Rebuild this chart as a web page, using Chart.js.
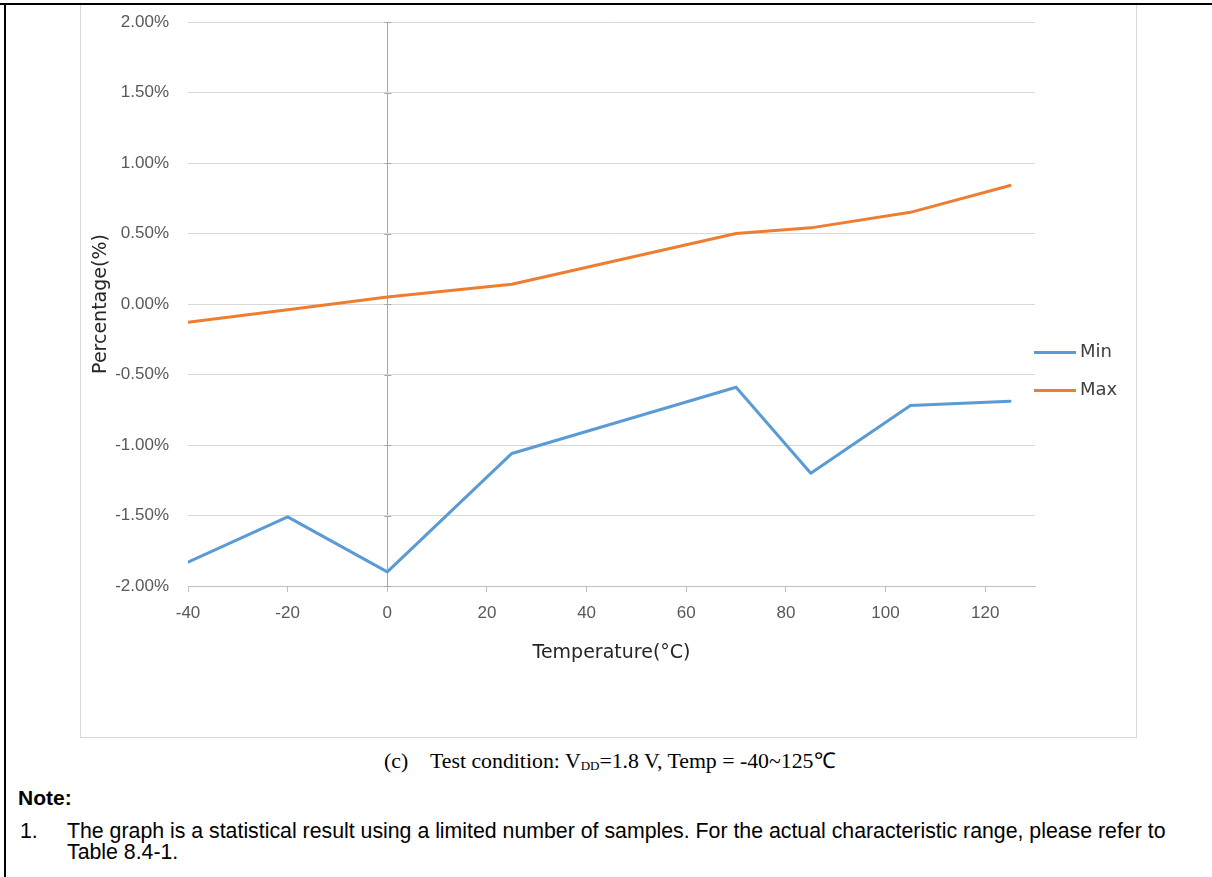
<!DOCTYPE html>
<html>
<head>
<meta charset="utf-8">
<script src="https://cdn.jsdelivr.net/npm/chart.js@4/dist/chart.umd.min.js"></script>
<style>
  html, body { margin: 0; padding: 0; background: #fff; }
  body { width: 1212px; height: 877px; position: relative; overflow: hidden; }
  .topline { position: absolute; left: 0; top: 3px; width: 1212px; height: 2px; background: #000; }
  .leftline { position: absolute; left: 4px; top: 3px; width: 2px; height: 874px; background: #000; }
  .box { position: absolute; left: 80px; top: 5px; width: 1057px; height: 733px; box-sizing: border-box; border: 1px solid #d9d9d9; border-top: none; }
  #wrap { position: absolute; left: 80px; top: 5px; width: 1057px; height: 733px; }
  .caption { position: absolute; top: 749px; left: 384px; font-family: "Liberation Serif", "Times New Roman", serif; font-size: 21.8px; line-height: 24px; color: #000; white-space: nowrap; }
  .caption sub { font-size: 13px; vertical-align: -2px; }
  .note { position: absolute; left: 18px; top: 786px; font-family: "Liberation Sans", Arial, sans-serif; font-weight: bold; font-size: 21px; line-height: 24px; color: #000; }
  .num { position: absolute; left: 20px; top: 821px; font-family: "Liberation Sans", Arial, sans-serif; font-size: 21.3px; line-height: 21px; color: #000; }
  .ntext { position: absolute; left: 67px; top: 821px; width: 1115px; font-family: "Liberation Sans", Arial, sans-serif; font-size: 21.3px; line-height: 21px; color: #000; }
</style>
</head>
<body>
<div class="topline"></div>
<div class="leftline"></div>
<div class="box"></div>
<div id="wrap"><canvas id="c"></canvas></div>
<div class="caption">(c)&nbsp;&nbsp;&nbsp;&nbsp;Test condition: V<sub>DD</sub>=1.8 V, Temp = -40~125℃</div>
<div class="note">Note:</div>
<div class="num">1.</div>
<div class="ntext">The graph is a statistical result using a limited number of samples. For the actual characteristic range, please refer to Table 8.4-1.</div>
<script>
const temperatures = [-40, -20, 0, 25, 70, 85, 105, 125];
const minValues = [-1.83, -1.51, -1.90, -1.06, -0.59, -1.20, -0.72, -0.69];
const maxValues = [-0.13, -0.04, 0.05, 0.14, 0.50, 0.54, 0.65, 0.84];
const seriesNames = ['Min', 'Max'];
const xTickValues = [-40, -20, 0, 20, 40, 60, 80, 100, 120];
const yTickValues = [-2, -1.5, -1, -0.5, 0, 0.5, 1, 1.5, 2];

const toPoints = (vals) => temperatures.map((t, i) => ({ x: t, y: vals[i] }));

const legendPlugin = {
  id: 'sideLegend',
  afterDraw(chart) {
    const ctx = chart.ctx;
    const area = chart.chartArea;
    const n = chart.data.datasets.length;
    const cy = chart.height / 2;
    ctx.save();
    ctx.font = '18px "DejaVu Sans", sans-serif';
    ctx.textBaseline = 'middle';
    ctx.textAlign = 'left';
    chart.data.datasets.forEach((ds, i) => {
      const y = cy + (i - (n - 1) / 2) * 38;
      const x0 = area.right - 1;
      ctx.strokeStyle = ds.borderColor;
      ctx.lineWidth = 3;
      ctx.beginPath();
      ctx.moveTo(x0, y);
      ctx.lineTo(x0 + 42, y);
      ctx.stroke();
      ctx.fillStyle = '#404040';
      ctx.fillText(ds.label, x0 + 46, y);
    });
    ctx.restore();
  }
};

const axisTickPlugin = {
  id: 'zeroAxisTicks',
  beforeDatasetsDraw(chart) {
    const ctx = chart.ctx;
    const xs = chart.scales.x, ys = chart.scales.y;
    const px = xs.getPixelForValue(0);
    ctx.save();
    ctx.strokeStyle = '#a6a6a6';
    ctx.lineWidth = 1;
    ys.ticks.forEach(t => {
      const py = Math.round(ys.getPixelForValue(t.value)) + 0.5;
      ctx.beginPath();
      ctx.moveTo(px - 3, py);
      ctx.lineTo(px + 4, py);
      ctx.stroke();
    });
    ctx.restore();
  }
};

new Chart(document.getElementById('c'), {
  type: 'line',
  data: {
    datasets: [
      { label: seriesNames[0], data: toPoints(minValues), borderColor: '#5b9bd5', backgroundColor: '#5b9bd5', borderWidth: 3, pointRadius: 0, tension: 0, borderCapStyle: 'round', borderJoinStyle: 'round' },
      { label: seriesNames[1], data: toPoints(maxValues), borderColor: '#ed7d31', backgroundColor: '#ed7d31', borderWidth: 3, pointRadius: 0, tension: 0, borderCapStyle: 'round', borderJoinStyle: 'round' }
    ]
  },
  options: {
    responsive: true,
    maintainAspectRatio: false,
    animation: false,
    layout: { padding: { left: 0, top: 17, right: 102, bottom: 52 } },
    plugins: { legend: { display: false }, tooltip: { enabled: false } },
    scales: {
      x: {
        type: 'linear',
        min: -40,
        max: 130,
        afterBuildTicks(scale) { scale.ticks = xTickValues.map(v => ({ value: v })); },
        afterFit(scale) { scale.height = 100; },
        ticks: { padding: 11, color: '#595959', font: { family: '"Liberation Sans", Arial, sans-serif', size: 17 }, maxRotation: 0 },
        grid: {
          drawOnChartArea: true,
          color: (c) => (c.tick && c.tick.value === 0) ? '#a6a6a6' : 'rgba(0,0,0,0)',
          tickColor: '#bfbfbf',
          tickLength: 6
        },
        border: { display: true, color: '#bfbfbf', width: 1 },
        title: { display: true, text: 'Temperature(°C)', color: '#262626', font: { family: '"DejaVu Sans", sans-serif', size: 19 }, padding: { top: 0, bottom: 22 } }
      },
      y: {
        type: 'linear',
        min: -2,
        max: 2,
        afterBuildTicks(scale) { scale.ticks = yTickValues.map(v => ({ value: v })); },
        afterFit(scale) { scale.width = 108; },
        ticks: { padding: 6, color: '#595959', font: { family: '"Liberation Sans", Arial, sans-serif', size: 17 }, callback: (v) => Number(v).toFixed(2) + '%' },
        grid: { color: '#d9d9d9', drawTicks: true, tickLength: 13, tickColor: 'rgba(0,0,0,0)' },
        border: { display: false },
        title: { display: true, text: 'Percentage(%)', color: '#262626', font: { family: '"DejaVu Sans", sans-serif', size: 19 }, padding: { top: 10, bottom: 0 } }
      }
    }
  },
  plugins: [legendPlugin, axisTickPlugin]
});
</script>
</body>
</html>
